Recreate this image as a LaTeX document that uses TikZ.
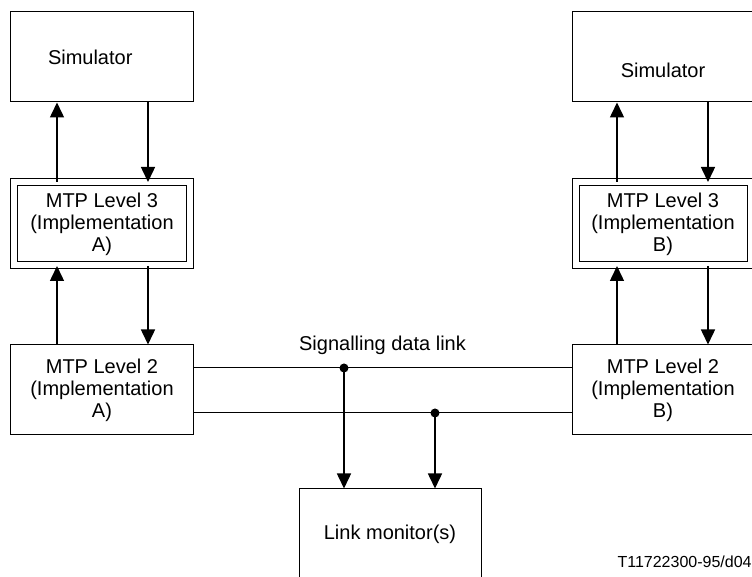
\documentclass[tikz,border=0pt]{standalone}
\usepackage{fontspec}
\setmainfont{Liberation Sans}
\usetikzlibrary{arrows.meta}

\tikzset{
  box/.style={draw, line width=0.5pt, minimum width=91pt, minimum height=45pt,
    inner sep=0pt, align=center, font=\fontsize{10}{11}\selectfont},
  dbox/.style={box, double, double distance=3pt, minimum width=87.5pt, minimum height=41.5pt},
  flow/.style={line width=0.75pt, ->},
  link/.style={line width=0.5pt},
  dot/.style={circle, fill, inner sep=0pt, minimum size=4.5pt},
}

\begin{document}
\begin{tikzpicture}[x=0.5pt, y=-0.5pt, node distance=83.5pt,
    >={Triangle[length=7.5pt, width=7pt]}]
  \clip (0,0) rectangle (752,577);
  % column A
  \node[box, text width=54pt, inner xsep=18.5pt, align=left] (SA) at (102,57) {Simulator};
  \node[dbox, below of=SA] (L3A) {MTP Level 3\\(Implementation\\A)};
  \node[box, below of=L3A, node distance=83pt] (L2A) {MTP Level 2\\(Implementation\\A)};
  % column B
  \node[box, right of=SA, node distance=280.5pt, text height=21pt, text depth=0pt] (SB) {Simulator};
  \node[dbox, right of=L3A, node distance=280.5pt] (L3B) {MTP Level 3\\(Implementation\\B)};
  \node[box, right of=L2A, node distance=280.5pt] (L2B) {MTP Level 2\\(Implementation\\B)};
  % monitor
  \node[box] (LM) at (390,534) {Link monitor(s)};

  \draw[flow] ([xshift=-22.5pt]L3A.north) -- ([xshift=-22.5pt]SA.south);
  \draw[flow] ([xshift=23pt]SA.south) -- ([xshift=23pt]L3A.north);
  \draw[flow] ([xshift=-22.5pt]L2A.north) -- ([xshift=-22.5pt]L3A.south);
  \draw[flow] ([xshift=23pt]L3A.south) -- ([xshift=23pt]L2A.north);

  \draw[flow] ([xshift=-23pt]L3B.north) -- ([xshift=-23pt]SB.south);
  \draw[flow] ([xshift=22.5pt]SB.south) -- ([xshift=22.5pt]L3B.north);
  \draw[flow] ([xshift=-23pt]L2B.north) -- ([xshift=-23pt]L3B.south);
  \draw[flow] ([xshift=22.5pt]L3B.south) -- ([xshift=22.5pt]L2B.north);

  \draw[link] ([yshift=11pt]L2A.east) -- node[above=3pt, font=\fontsize{10}{11}\selectfont] (SDL) {Signalling data link} ([yshift=11pt]L2B.west);
  \draw[link] ([yshift=-11.5pt]L2A.east) -- ([yshift=-11.5pt]L2B.west);

  \node[dot] (T1) at (344,368) {};
  \node[dot] (T2) at (435,413) {};
  \draw[flow] (T1.center) -- (T1 |- LM.north);
  \draw[flow] (T2.center) -- (T2 |- LM.north);

  \node[anchor=east, inner sep=0pt, font=\fontsize{8}{9.6}\selectfont] (ID) at (752,562) {T11722300-95/d04};
\end{tikzpicture}
\end{document}
